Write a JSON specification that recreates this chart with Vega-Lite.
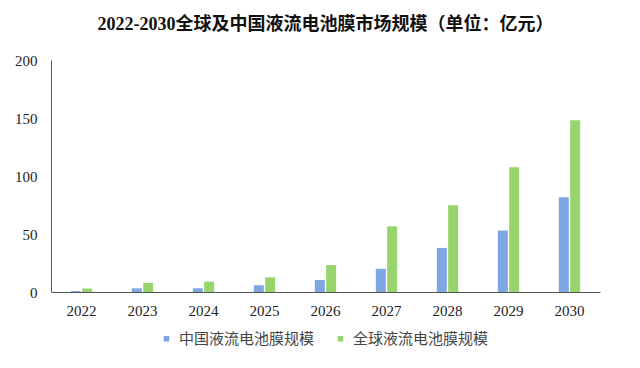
{
  "$schema": "https://vega.github.io/schema/vega-lite/v6.json",
  "autosize": "none",
  "width": 549,
  "height": 232,
  "padding": {"left": 51, "top": 60, "right": 40, "bottom": 76},
  "background": "#ffffff",
  "title": {
    "text": "2022-2030全球及中国液流电池膜市场规模（单位：亿元）",
    "font": "Liberation Serif, Noto Sans CJK SC",
    "fontSize": 18,
    "fontWeight": "bold",
    "color": "#111111",
    "anchor": "middle",
    "offset": 19
  },
  "data": {
    "values": [
      {"year": "2022", "series": "中国液流电池膜规模", "value": 0.8},
      {"year": "2022", "series": "全球液流电池膜规模", "value": 3},
      {"year": "2023", "series": "中国液流电池膜规模", "value": 3.2},
      {"year": "2023", "series": "全球液流电池膜规模", "value": 7.8},
      {"year": "2024", "series": "中国液流电池膜规模", "value": 3.2},
      {"year": "2024", "series": "全球液流电池膜规模", "value": 8.9},
      {"year": "2025", "series": "中国液流电池膜规模", "value": 5.8},
      {"year": "2025", "series": "全球液流电池膜规模", "value": 12.6},
      {"year": "2026", "series": "中国液流电池膜规模", "value": 10.3},
      {"year": "2026", "series": "全球液流电池膜规模", "value": 23.3},
      {"year": "2027", "series": "中国液流电池膜规模", "value": 20},
      {"year": "2027", "series": "全球液流电池膜规模", "value": 56.6},
      {"year": "2028", "series": "中国液流电池膜规模", "value": 38},
      {"year": "2028", "series": "全球液流电池膜规模", "value": 74.7},
      {"year": "2029", "series": "中国液流电池膜规模", "value": 53},
      {"year": "2029", "series": "全球液流电池膜规模", "value": 107.6},
      {"year": "2030", "series": "中国液流电池膜规模", "value": 81.6},
      {"year": "2030", "series": "全球液流电池膜规模", "value": 148}
    ]
  },
  "mark": {"type": "bar"},
  "encoding": {
    "x": {
      "field": "year",
      "type": "nominal",
      "scale": {"paddingInner": 0.65, "paddingOuter": 0.325},
      "axis": {
        "title": null,
        "labelAngle": 0,
        "ticks": false,
        "domainColor": "#555555",
        "domainWidth": 1,
        "labelFont": "Liberation Serif",
        "labelFontSize": 15,
        "labelColor": "#222222",
        "labelPadding": 11,
        "grid": false
      }
    },
    "xOffset": {
      "field": "series",
      "type": "nominal",
      "sort": ["中国液流电池膜规模", "全球液流电池膜规模"],
      "scale": {"paddingInner": 0.12}
    },
    "y": {
      "field": "value",
      "type": "quantitative",
      "scale": {"domain": [0, 200]},
      "axis": {
        "title": null,
        "values": [0, 50, 100, 150, 200],
        "ticks": false,
        "grid": false,
        "domainColor": "#555555",
        "labelFont": "Liberation Serif",
        "labelFontSize": 15,
        "labelColor": "#222222",
        "labelPadding": 14
      }
    },
    "color": {
      "field": "series",
      "type": "nominal",
      "sort": ["中国液流电池膜规模", "全球液流电池膜规模"],
      "scale": {"range": ["#7EA6E0", "#97D46C"]},
      "legend": {
        "title": null,
        "orient": "none",
        "legendX": 108,
        "legendY": 271,
        "direction": "horizontal",
        "symbolType": "square",
        "symbolSize": 30,
        "symbolOffset": 0,
        "labelOffset": 5,
        "labelFont": "Noto Sans CJK SC",
        "labelFontSize": 15,
        "labelColor": "#444444",
        "columnPadding": 18
      }
    }
  },
  "config": {
    "view": {"stroke": null}
  }
}
